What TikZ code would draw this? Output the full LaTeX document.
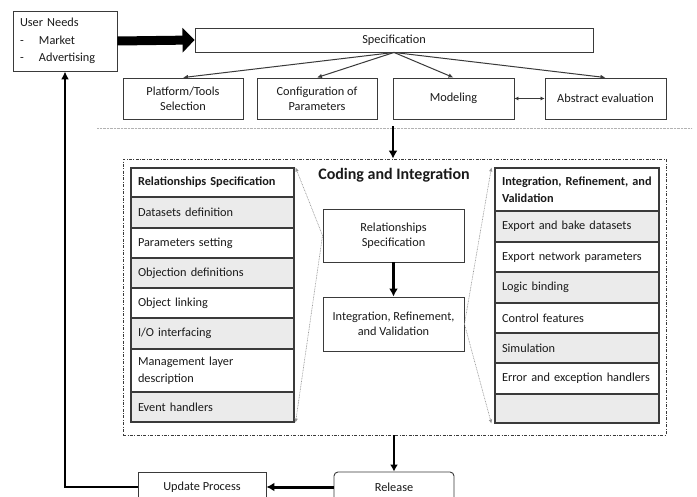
\documentclass[tikz,border=0pt]{standalone}
\usepackage{fontspec}
\setmainfont{Carlito}
\usetikzlibrary{arrows.meta}
\definecolor{bordc}{HTML}{3A3A3A}
\definecolor{cellg}{HTML}{EBEBEB}
\definecolor{txtc}{HTML}{1A1A1A}
\newcommand{\fsz}{\fontsize{12.3}{15}\selectfont}
\tikzset{
  box/.style={draw=bordc, line width=0.9pt, fill=white, font=\fsz, text=txtc, align=center, inner sep=2pt},
  cellw/.style={draw=bordc, line width=1.1pt, fill=white, font=\fsz, text=txtc, align=left, inner xsep=7pt, inner ysep=1pt},
  cellg/.style={cellw, fill=cellg},
  thinarr/.style={-{Latex[length=5pt,width=4.5pt]}, line width=1pt, draw=bordc},
  thickarr/.style={-{Latex[length=8pt,width=9pt]}, line width=2.4pt, draw=black},
  dotarr/.style={-{Latex[length=4pt,width=3.5pt]}, line width=0.6pt, draw=gray!85, dash pattern=on 0.8pt off 0.8pt},
}
\begin{document}
\begin{tikzpicture}[x=1pt,y=-1pt]
\useasboundingbox (0,0) rectangle (697,496);
\clip (0,0) rectangle (697,496);
\fill[white] (0,0) rectangle (697,496);

% top row
\node[box, minimum width=104, minimum height=60, text width=90, align=left, inner xsep=7pt, font=\fontsize{12.3}{17.5}\selectfont] (usr) at (65,41)
  {User Needs\\\makebox[19pt][l]{-}Market\\\makebox[19pt][l]{-}Advertising};
\node[box, minimum width=398, minimum height=24] (spec) at (394,40) {Specification};
\node[box, minimum width=120, minimum height=41] (plat) at (183,98.5) {Platform/Tools\\Selection};
\node[box, minimum width=120, minimum height=41] (conf) at (317,98.5) {Configuration of\\Parameters};
\node[box, minimum width=121, minimum height=41] (model) at (453.5,98.5) {Modeling};
\node[box, minimum width=121, minimum height=41] (abs) at (605.5,98.5) {Abstract evaluation};

\draw[line width=9pt, -{Triangle[length=12pt,width=24pt]}] (usr.east) -- (spec.west);
\draw[thinarr] (spec.south) -- (plat.north);
\draw[thinarr] (spec.south) -- (conf.north);
\draw[thinarr] (spec.south) -- (model.north);
\draw[thinarr] (spec.south) -- (abs.north);
\draw[{Latex[length=4pt,width=4pt]}-{Latex[length=4pt,width=4pt]}, line width=0.6pt, draw=bordc] (model.east) -- (abs.east -| abs.west);

% separator
\coordinate (sepl) at (97,128);
\coordinate (sepr) at (692,128);
\coordinate (sepm) at (393,128);
\draw[gray!60, line width=0.7pt, dash pattern=on 0.7pt off 0.7pt] (sepl) -- (sepr);

% container
\node[draw=bordc, line width=0.8pt, dash pattern=on 3pt off 1.5pt on 0.8pt off 1.5pt, minimum width=543, minimum height=276, inner sep=0pt] (ci) at (394.5,297) {};
\draw[thickarr] ([yshift=2]sepm) -- (sepm |- ci.north);
\node[font=\bfseries\fontsize{16}{19}\selectfont, text=txtc] (title) at (394,175) {Coding and Integration};

% left table
\def\lw{163}
\node[cellw, minimum width=\lw, minimum height=29, text width=149pt] (l1) at (212.5,182.5) {\textbf{Relationships Specification}};
\node[cellg, minimum width=\lw, minimum height=31, text width=149pt] (l2) at (212.5,212.5) {Datasets definition};
\node[cellw, minimum width=\lw, minimum height=30, text width=149pt] (l3) at (212.5,243) {Parameters setting};
\node[cellg, minimum width=\lw, minimum height=30, text width=149pt] (l4) at (212.5,273) {Objection definitions};
\node[cellw, minimum width=\lw, minimum height=30, text width=149pt] (l5) at (212.5,303) {Object linking};
\node[cellg, minimum width=\lw, minimum height=31, text width=149pt] (l6) at (212.5,333.5) {I/O interfacing};
\node[cellw, minimum width=\lw, minimum height=43, text width=149pt, font=\fontsize{12.3}{17}\selectfont] (l7) at (212.5,370.5) {Management layer\\description};
\node[cellg, minimum width=\lw, minimum height=30, text width=149pt] (l8) at (212.5,407) {Event handlers};

% right table
\def\rw{164}
\node[cellw, minimum width=\rw, minimum height=43, text width=150pt, font=\bfseries\fontsize{12.3}{17}\selectfont] (r1) at (577,189.5) {Integration, Refinement, and\\Validation};
\node[cellg, minimum width=\rw, minimum height=31, text width=150pt] (r2) at (577,226.5) {Export and bake datasets};
\node[cellw, minimum width=\rw, minimum height=30, text width=150pt] (r3) at (577,257) {Export network parameters};
\node[cellg, minimum width=\rw, minimum height=31, text width=150pt] (r4) at (577,287.5) {Logic binding};
\node[cellw, minimum width=\rw, minimum height=30, text width=150pt] (r5) at (577,318) {Control features};
\node[cellg, minimum width=\rw, minimum height=30, text width=150pt] (r6) at (577,348) {Simulation};
\node[cellw, minimum width=\rw, minimum height=31, text width=150pt] (r7) at (577,378.5) {Error and exception handlers};
\node[cellg, minimum width=\rw, minimum height=29, text width=150pt] (r8) at (577,408.5) {};

% middle boxes
\node[box, minimum width=141, minimum height=53] (rs) at (393.5,235.5) {Relationships\\Specification};
\node[box, minimum width=141, minimum height=54] (ir) at (393.5,324) {Integration, Refinement,\\and Validation};
\draw[thickarr] (rs.south) -- (ir.north);

\draw[dotarr] (rs.west) -- ([xshift=1]l1.north east);
\draw[dotarr] (rs.west) -- ([xshift=1]l8.south east);
\draw[dotarr] (ir.east) -- ([xshift=-3]r1.north west);
\draw[dotarr] (ir.east) -- ([xshift=-3]r8.south west);

% bottom
\node[box, rounded corners=4pt, minimum width=120, minimum height=30] (rel) at (394,487) {Release};
\node[box, minimum width=128, minimum height=30] (upd) at (202,487) {Update Process};
\draw[-{Latex[length=7pt,width=8pt]}, line width=2pt] (ci.south -| rel.north) -- (rel.north);
\draw[-{Latex[length=8pt,width=9pt]}, line width=3pt] (rel.west) -- (upd.east);
\draw[-{Latex[length=8pt,width=8pt]}, line width=2.2pt] (upd.west) -| (usr.south);
\end{tikzpicture}
\end{document}
